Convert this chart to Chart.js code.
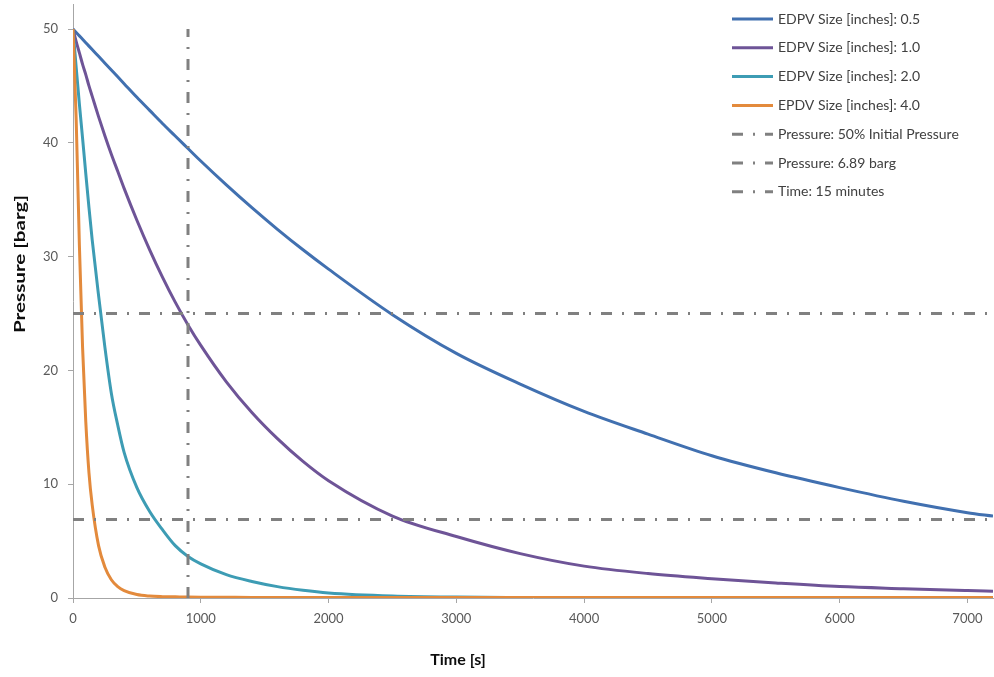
<!DOCTYPE html>
<html>
<head>
<meta charset="utf-8">
<script src="https://cdn.jsdelivr.net/npm/chart.js@4.4.1/dist/chart.umd.min.js"></script>
<style>
  html, body { margin: 0; padding: 0; background: #fff; }
  #wrap { width: 994px; height: 677px; position: relative; }
</style>
</head>
<body>
<div id="wrap"><canvas id="myChart"></canvas></div>
<script>
// time [s] shared by all four blowdown curves
const times = [0, 25, 50, 75, 100, 125, 150, 200, 250, 300, 350, 400, 500, 600, 700, 800, 900, 1000,
  1200, 1400, 1600, 1800, 2000, 2500, 3000, 3500, 4000, 4500, 5000, 5500, 6000, 6500, 7000, 7200];

// pressure [barg]
const pressure05 = [50, 49.7, 49.4, 49.1, 48.8, 48.5, 48.2, 47.6, 47.0, 46.4, 45.8, 45.2, 44.0, 42.85, 41.7, 40.6, 39.5, 38.4,
  36.3, 34.3, 32.4, 30.6, 28.9, 24.9, 21.5, 18.8, 16.4, 14.4, 12.5, 11.0, 9.7, 8.5, 7.5, 7.2];
const pressure10 = [50, 48.9, 47.9, 46.9, 46.0, 45.0, 44.1, 42.3, 40.6, 39.0, 37.5, 36.0, 33.2, 30.6, 28.2, 26.0, 24.0, 22.2,
  19.0, 16.3, 14.0, 12.0, 10.3, 7.2, 5.4, 3.9, 2.8, 2.15, 1.7, 1.32, 1.0, 0.82, 0.66, 0.6];
const pressure20 = [50, 46.6, 43.4, 40.4, 37.3, 34.3, 31.5, 26.6, 22.0, 18.0, 15.2, 12.8, 9.7, 7.6, 6.0, 4.6, 3.65, 3.0,
  2.05, 1.45, 1.0, 0.68, 0.45, 0.18, 0.08, 0.05, 0.04, 0.03, 0.03, 0.02, 0.02, 0.02, 0.02, 0.02];
const pressure40 = [50, 42, 31, 22, 15.5, 11, 8.2, 4.6, 2.7, 1.6, 1.0, 0.65, 0.3, 0.17, 0.12, 0.1, 0.08, 0.07,
  0.06, 0.05, 0.05, 0.05, 0.05, 0.05, 0.05, 0.05, 0.05, 0.05, 0.05, 0.05, 0.05, 0.05, 0.05, 0.05];

const seriesLabels = ['EDPV Size [inches]: 0.5', 'EDPV Size [inches]: 1.0', 'EDPV Size [inches]: 2.0', 'EPDV Size [inches]: 4.0'];
const seriesColors = ['#4170b0', '#6e5497', '#3d9cb4', '#e38a3c'];

// reference lines
const halfPressure = 25;
const limitPressure = 6.89;
const limitTime = 900;
const timeEnd = 7200;
const initialPressure = 50;

const xTickValues = [0, 1000, 2000, 3000, 4000, 5000, 6000, 7000];
const yTickValues = [0, 10, 20, 30, 40, 50];

const dashDot = [11, 10, 2, 10];
const refColor = '#808080';

const toPoints = (values) => times.map((t, i) => ({ x: t, y: values[i] }));

const curves = [pressure05, pressure10, pressure20, pressure40].map((values, i) => ({
  label: seriesLabels[i],
  data: toPoints(values),
  borderColor: seriesColors[i],
  borderWidth: 3,
  pointRadius: 0,
  cubicInterpolationMode: 'monotone',
  order: 4 - i,
}));

const refLine = (label, points) => ({
  label: label,
  data: points,
  borderColor: refColor,
  borderWidth: 3,
  borderDash: dashDot,
  pointRadius: 0,
  order: 0,
});

const datasets = curves.concat([
  refLine('Pressure: 50% Initial Pressure', [{ x: 0, y: halfPressure }, { x: timeEnd, y: halfPressure }]),
  refLine('Pressure: 6.89 barg', [{ x: 0, y: limitPressure }, { x: timeEnd, y: limitPressure }]),
  refLine('Time: 15 minutes', [{ x: limitTime, y: 0 }, { x: limitTime, y: initialPressure }]),
]);

// legend sits inside the plot, plus the two axis titles
const legendAndTitles = {
  id: 'legendAndTitles',
  afterDraw(chart) {
    const ctx = chart.ctx;
    ctx.save();
    chart.data.datasets.forEach((ds, i) => {
      const y = 19 + i * 28.8;
      ctx.strokeStyle = ds.borderColor;
      ctx.lineWidth = 3;
      ctx.setLineDash(ds.borderDash || []);
      ctx.beginPath();
      ctx.moveTo(732, y);
      ctx.lineTo(773, y);
      ctx.stroke();
      ctx.setLineDash([]);
      ctx.fillStyle = '#404040';
      ctx.font = '14px Lato';
      ctx.textBaseline = 'middle';
      ctx.textAlign = 'left';
      ctx.fillText(ds.label, 778, y);
    });

    ctx.fillStyle = '#0d0d0d';
    ctx.font = 'bold 16px Lato';
    ctx.textAlign = 'center';
    ctx.textBaseline = 'middle';
    ctx.fillText('Time [s]', 458, 660);

    // the y title is drawn longer than the x one in the original
    const yTitle = 'Pressure [barg]';
    const stretch = 138 / ctx.measureText(yTitle).width;
    ctx.translate(20, 264);
    ctx.rotate(-Math.PI / 2);
    ctx.scale(stretch, 1);
    ctx.fillText(yTitle, 0, 0);
    ctx.restore();
  },
};

const noPadding = (axis) => {
  axis.paddingTop = 0;
  axis.paddingBottom = 0;
  axis.paddingLeft = 0;
  axis.paddingRight = 0;
};

const ctx = document.getElementById('myChart');
new Chart(ctx, {
  type: 'line',
  data: { datasets: datasets },
  options: {
    responsive: true,
    maintainAspectRatio: false,
    animation: false,
    events: [],
    layout: { padding: { top: 4, right: 1, left: 0, bottom: 0 } },
    plugins: {
      legend: { display: false },
      tooltip: { enabled: false },
    },
    scales: {
      x: {
        type: 'linear',
        min: 0,
        max: timeEnd,
        afterBuildTicks: (axis) => { axis.ticks = xTickValues.map((v) => ({ value: v })); },
        afterFit: (axis) => { axis.height = 79; noPadding(axis); },
        grid: { drawOnChartArea: false, drawTicks: true, tickLength: 5, color: '#a6a6a6' },
        border: { display: true, color: '#a6a6a6', width: 1 },
        ticks: { color: '#595959', font: { family: 'Lato', size: 13 }, padding: 8, maxRotation: 0, callback: (v) => String(v) },
      },
      y: {
        type: 'linear',
        min: 0,
        max: 52.2,
        afterBuildTicks: (axis) => { axis.ticks = yTickValues.map((v) => ({ value: v })); },
        afterFit: (axis) => { axis.width = 73; noPadding(axis); },
        grid: { drawOnChartArea: false, drawTicks: true, tickLength: 5, color: '#a6a6a6' },
        border: { display: true, color: '#a6a6a6', width: 1 },
        ticks: { color: '#595959', font: { family: 'Lato', size: 13 }, padding: 10, callback: (v) => String(v) },
      },
    },
  },
  plugins: [legendAndTitles],
});
</script>
</body>
</html>
